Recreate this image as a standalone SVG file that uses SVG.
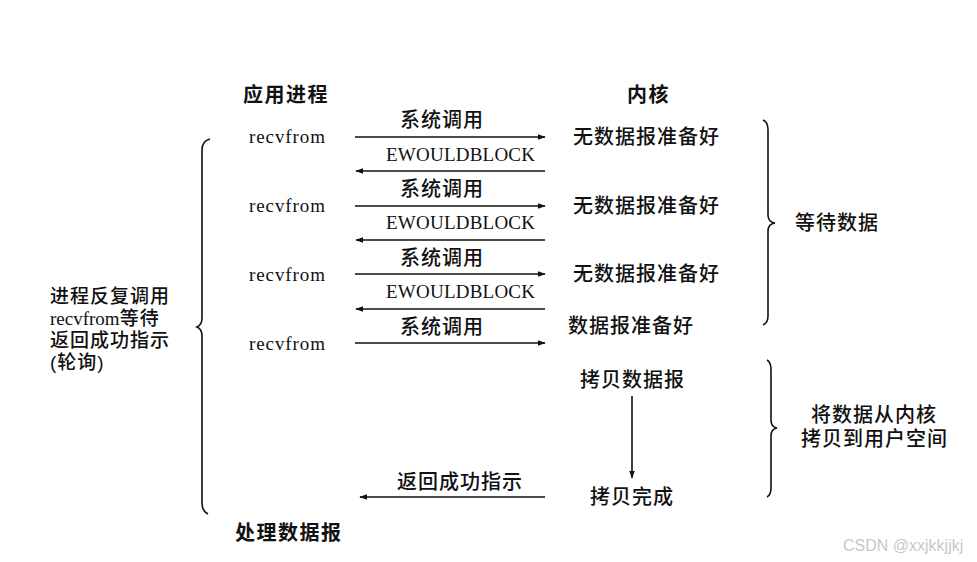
<svg xmlns="http://www.w3.org/2000/svg" width="977" height="562" viewBox="0 0 977 562">
<style>
.cn{font-family:"Liberation Sans","Noto Sans CJK SC",sans-serif;font-size:20px;letter-spacing:1px;fill:#111;font-weight:500}
.lf{font-family:"Liberation Sans","Noto Sans CJK SC",sans-serif;font-size:19px;letter-spacing:1px;fill:#111;font-weight:500}
.hd{font-family:"Liberation Sans","Noto Sans CJK SC",sans-serif;font-size:20px;letter-spacing:1.5px;fill:#111;font-weight:700}
.en{font-family:"Liberation Serif",serif;font-size:19px;fill:#111}
.ln{stroke:#111;stroke-width:1.6;fill:none}
.br{stroke:#111;stroke-width:1.6;fill:none}
.wm{font-family:"Liberation Sans",sans-serif;font-size:16px;fill:#c8c8c8}
</style>
<defs>
<marker id="ah" viewBox="0 0 10 10" refX="9" refY="5" markerWidth="8" markerHeight="8" markerUnits="userSpaceOnUse" orient="auto">
<path d="M0,1.5 L10,5 L0,8.5 Z" fill="#111"/>
</marker>
</defs>
<rect width="977" height="562" fill="#fff"/>
<g id="headers">
<text class="hd" x="243" y="102">应用进程</text>
<text class="hd" x="627" y="102">内核</text>
</g>
<g id="app">
<text class="en" x="249" y="143" textLength="76">recvfrom</text>
<text class="en" x="249" y="212" textLength="76">recvfrom</text>
<text class="en" x="249" y="281" textLength="76">recvfrom</text>
<text class="en" x="249" y="350" textLength="76">recvfrom</text>
<text class="hd" x="235" y="540">处理数据报</text>
</g>
<g id="kernel">
<text class="cn" x="573" y="144">无数据报准备好</text>
<text class="cn" x="573" y="213">无数据报准备好</text>
<text class="cn" x="573" y="281">无数据报准备好</text>
<text class="cn" x="568" y="333">数据报准备好</text>
<text class="cn" x="580" y="387">拷贝数据报</text>
<text class="cn" x="590" y="504">拷贝完成</text>
</g>
<g id="connectors">
<line class="ln" x1="355" y1="137" x2="545" y2="137" marker-end="url(#ah)"/>
<line class="ln" x1="545" y1="171" x2="356" y2="171" marker-end="url(#ah)"/>
<line class="ln" x1="355" y1="206" x2="545" y2="206" marker-end="url(#ah)"/>
<line class="ln" x1="545" y1="240" x2="356" y2="240" marker-end="url(#ah)"/>
<line class="ln" x1="355" y1="274" x2="545" y2="274" marker-end="url(#ah)"/>
<line class="ln" x1="545" y1="309" x2="356" y2="309" marker-end="url(#ah)"/>
<line class="ln" x1="355" y1="343" x2="545" y2="343" marker-end="url(#ah)"/>
<line class="ln" x1="545" y1="497" x2="360" y2="497" marker-end="url(#ah)"/>
<line class="ln" x1="632" y1="396" x2="632" y2="478" marker-end="url(#ah)"/>
</g>
<g id="labels">
<text class="cn" x="400" y="127">系统调用</text>
<text class="en" x="386" y="161" textLength="149">EWOULDBLOCK</text>
<text class="cn" x="400" y="196">系统调用</text>
<text class="en" x="386" y="229" textLength="149">EWOULDBLOCK</text>
<text class="cn" x="400" y="265">系统调用</text>
<text class="en" x="386" y="298" textLength="149">EWOULDBLOCK</text>
<text class="cn" x="400" y="334">系统调用</text>
<text class="cn" x="397" y="489">返回成功指示</text>
</g>
<g id="left-brace">
<path class="br" d="M210,139 Q202,141 202,150 L202,318 Q202,325 197,327 Q202,329 202,336 L202,503 Q202,511 208,514"/>
<text class="lf" x="50" y="303">进程反复调用</text>
<text x="50" y="325"><tspan class="en">recvfrom</tspan><tspan class="lf">等待</tspan></text>
<text class="lf" x="50" y="347">返回成功指示</text>
<text class="lf" x="50" y="369">(轮询)</text>
</g>
<g id="brace-wait">
<path class="br" d="M763,120 Q768,122 768,130 L768,215 Q768,222 775,223 Q768,224 768,231 L768,316 Q768,323 763,325"/>
<text class="cn" x="795" y="230">等待数据</text>
</g>
<g id="brace-copy">
<path class="br" d="M767,360 Q771,362 771,370 L771,420 Q771,427 777,428 Q771,429 771,436 L771,488 Q771,495 767,497"/>
<text class="cn" x="811" y="422">将数据从内核</text>
<text class="cn" x="801" y="446">拷贝到用户空间</text>
</g>
<text class="wm" x="843" y="551">CSDN @xxjkkjjkj</text>
</svg>
